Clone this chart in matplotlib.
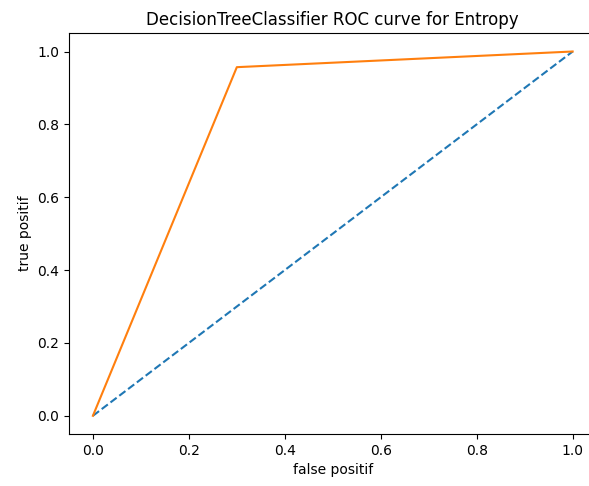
import matplotlib
matplotlib.use("Agg")
import matplotlib.pyplot as plt

# ROC points
baseline_fpr = [0, 1]
baseline_tpr = [0, 1]
fpr = [0.0, 0.3, 1.0]
tpr = [0.0, 0.957, 1.0]

fig = plt.figure(figsize=(5.89, 4.86), dpi=100)
# axes runs a little past the right edge, as in the reference crop
ax = fig.add_axes([0.117, 0.107, 0.896, 0.8245])
ax.plot(baseline_fpr, baseline_tpr, linestyle="--")
ax.plot(fpr, tpr)
ax.set_title("DecisionTreeClassifier ROC curve for Entropy")
ax.set_xlabel("false positif")
ax.set_ylabel("true positif")
fig.savefig("out.png", dpi=100)
